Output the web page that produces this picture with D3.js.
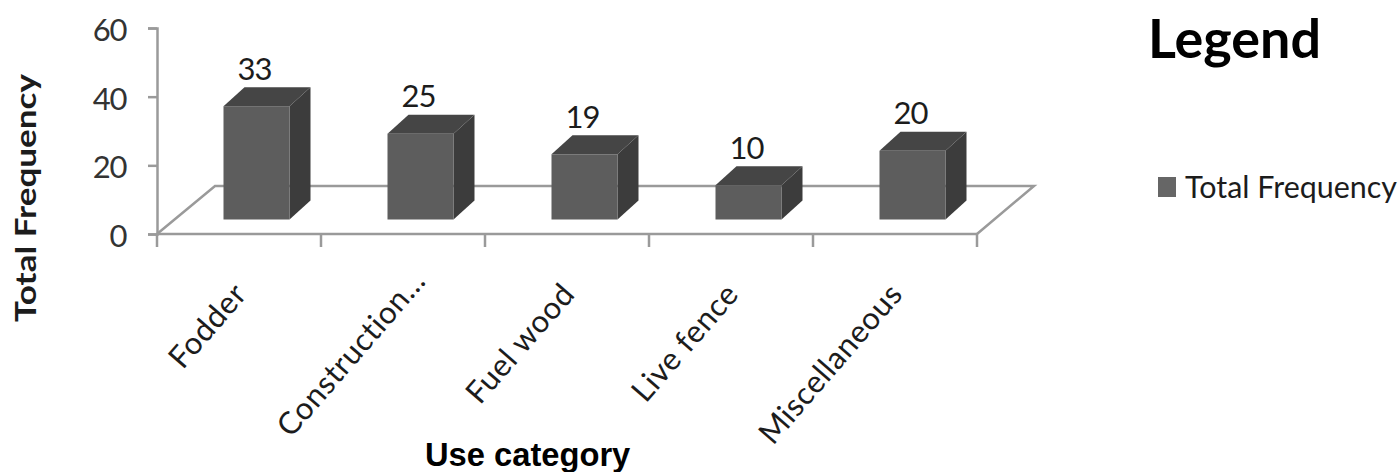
<!DOCTYPE html>
<html>
<head>
<meta charset="utf-8">
<script src="https://cdn.jsdelivr.net/npm/d3@7/dist/d3.min.js"></script>
<style>
html,body{margin:0;padding:0;background:#fff}
svg{display:block}
text{font-family:Lato,"Open Sans",sans-serif;fill:#1c1c1c}
</style>
</head>
<body>
<svg id="chart" width="1400" height="472"></svg>
<script>
const categories = ["Fodder","Construction...","Fuel wood","Live fence","Miscellaneous"];
const values = [33,25,19,10,20];
const yTicks = [0,20,40,60];
const seriesName = "Total Frequency";

const svg = d3.select("#chart");
const axisColor = "#9a9a9a";

const y = d3.scaleLinear().domain([0,60]).range([234,28]);
const x = d3.scaleBand().domain(categories).range([157,977]);

// Oblique projection used for the floor and the bar depth
const floorDx = 58, floorDy = -48;
const barDx = 21, barDy = -19;
const barLift = 14.5, barShift = 66.5, barWidth = 66;

// Floor outline
svg.append("path")
  .attr("d", d3.line()([
    [x.range()[0],y(0)],
    [x.range()[0]+floorDx,y(0)+floorDy],
    [x.range()[1]+floorDx-1,y(0)+floorDy],
    [x.range()[1],y(0)]
  ]))
  .attr("fill","none").attr("stroke",axisColor).attr("stroke-width",2.5);

// Y axis
const yAxis = svg.append("g")
  .attr("transform",`translate(${x.range()[0]},0)`)
  .call(d3.axisLeft(y).tickValues(yTicks).tickSize(9).tickPadding(22));
yAxis.selectAll("path,line").attr("stroke",axisColor).attr("stroke-width",2.5);
yAxis.selectAll("text")
  .attr("font-size",31).attr("letter-spacing",-1.4).attr("dy","0.40em")
  .style("font-family","Lato").style("fill","#333");

// X axis
const xEdges = categories.map(c=>x(c)).concat(x.range()[1]);
const xAxis = svg.append("g");
xAxis.append("line")
  .attr("x1",x.range()[0]).attr("x2",x.range()[1])
  .attr("y1",y(0)).attr("y2",y(0))
  .attr("stroke",axisColor).attr("stroke-width",2.5);
xAxis.selectAll("line.tick").data(xEdges).join("line")
  .attr("class","tick")
  .attr("x1",d=>d).attr("x2",d=>d)
  .attr("y1",y(0)).attr("y2",y(0)+13)
  .attr("stroke",axisColor).attr("stroke-width",2.5);

// Bars: front, top and side faces
const bars = svg.selectAll("g.bar").data(categories.map((c,i)=>({c,v:values[i]}))).join("g").attr("class","bar");
const geom = d => {
  const x0 = x(d.c)+barShift, x1 = x0+barWidth;
  const b = y(0)-barLift, t = y(d.v)-barLift;
  return {x0,x1,b,t};
};
bars.append("path").attr("fill","#3c3c3c").attr("d",d=>{
  const g = geom(d);
  return d3.line()([[g.x1,g.t],[g.x1+barDx,g.t+barDy],[g.x1+barDx,g.b+barDy],[g.x1,g.b]])+"Z";
});
bars.append("path").attr("fill","#454545").attr("d",d=>{
  const g = geom(d);
  return d3.line()([[g.x0,g.t],[g.x0+barDx,g.t+barDy],[g.x1+barDx,g.t+barDy],[g.x1,g.t]])+"Z";
});
bars.append("rect").attr("fill","#5d5d5d")
  .attr("x",d=>geom(d).x0).attr("y",d=>geom(d).t)
  .attr("width",barWidth).attr("height",d=>geom(d).b-geom(d).t);
bars.append("text")
  .attr("x",d=>geom(d).x0+31).attr("y",d=>geom(d).t+barDy-7.5)
  .attr("text-anchor","middle").attr("font-size",31).attr("letter-spacing",-1)
  .text(d=>d.v);

// Category labels, slanted; the truncated label runs further along its slant
svg.selectAll("text.cat").data(categories).join("text")
  .attr("class","cat")
  .attr("text-anchor","end").attr("font-size",31).attr("letter-spacing",0.6)
  .attr("transform",c=>{
    const nudge = c.endsWith("...") ? [15,-13] : [0,0];
    return `translate(${x(c)+x.bandwidth()/2+1+nudge[0]},${y(0)+54+nudge[1]}) rotate(-49)`;
  })
  .attr("dy","0.35em")
  .text(c=>c);

// Axis titles
svg.append("text")
  .attr("transform","translate(36,198) rotate(-90)")
  .attr("text-anchor","middle").attr("font-size",29).attr("font-weight",700)
  .attr("textLength",248).attr("lengthAdjust","spacingAndGlyphs")
  .text(seriesName);
svg.append("text")
  .attr("x",425).attr("y",466)
  .attr("font-size",32.7).attr("font-weight",700)
  .style("font-family","'Liberation Sans'").style("fill","#000")
  .text("Use category");

// Legend
svg.append("text").attr("x",1148).attr("y",58)
  .attr("font-size",54).attr("font-weight",700)
  .attr("textLength",173).attr("lengthAdjust","spacingAndGlyphs")
  .style("fill","#000").text("Legend");
svg.append("rect").attr("x",1158).attr("y",177).attr("width",18).attr("height",20).attr("fill","#666");
svg.append("text").attr("x",1185).attr("y",198)
  .attr("font-size",30)
  .attr("textLength",212).attr("lengthAdjust","spacingAndGlyphs")
  .text(seriesName);
</script>
</body>
</html>
